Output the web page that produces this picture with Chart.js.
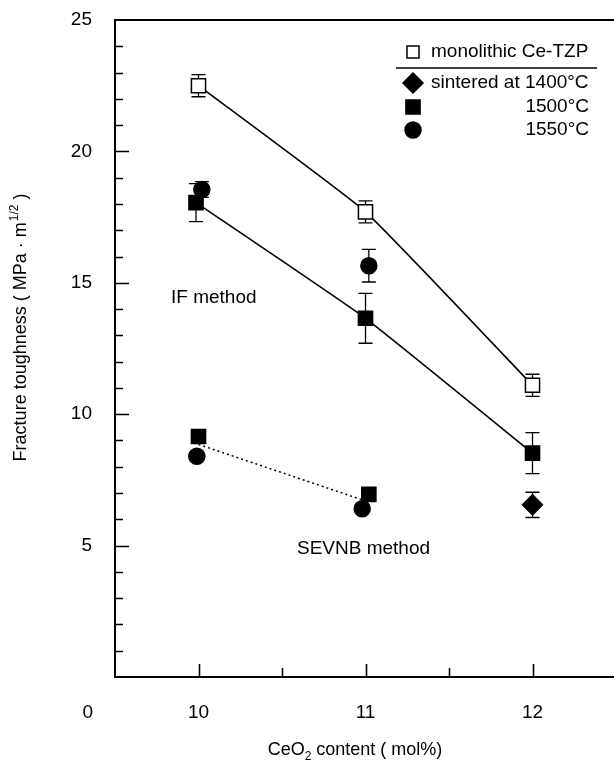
<!DOCTYPE html>
<html>
<head>
<meta charset="utf-8">
<script src="https://cdn.jsdelivr.net/npm/chart.js@4.4.1/dist/chart.umd.min.js"></script>
<style>
html,body{margin:0;padding:0;background:#fff;overflow:hidden;}
#wrap{width:640px;height:773px;}
</style>
</head>
<body>
<div id="wrap"><canvas id="c" width="640" height="773"></canvas></div>
<script>
// ---- data ----
const categories = [10, 11, 12];
const monoY = [22.5, 17.7, 11.1];
const monoErr = [0.42, 0.42, 0.42];
const if1500X = [9.985, 11.0, 12.0];
const if1500Y = [18.05, 13.65, 8.52];
const if1500Err = [0.72, 0.95, 0.78];
const if1550X = [10.02, 11.02];
const if1550Y = [18.55, 15.65];
const if1550Err = [0.3, 0.62];
const sevnbLineX = [10, 11];
const sevnbLineY = [8.85, 6.7];
const sevnb1500X = [10.0, 11.02];
const sevnb1500Y = [9.15, 6.95];
const sevnb1550X = [9.99, 10.98];
const sevnb1550Y = [8.4, 6.4];
const sinter1400X = [12];
const sinter1400Y = [6.55];
const sinter1400Err = [0.48];
const yTickLabels = [5, 10, 15, 20, 25];
const xTickLabels = [10, 11, 12];
const legendItems = [
  {label: 'monolithic Ce-TZP', style: 'rect', fill: '#fff', r: 8.5, align: 'left'},
  {label: 'sintered at 1400\u00B0C', style: 'rectRot', fill: '#000', r: 10, align: 'left'},
  {label: '1500\u00B0C', style: 'rect', fill: '#000', r: 10, align: 'right'},
  {label: '1550\u00B0C', style: 'circle', fill: '#000', r: 8, align: 'right'}
];

const FONT = '"Liberation Sans", Arial, Helvetica, sans-serif';
const pts = (xs, ys) => xs.map((x, i) => ({x: x, y: ys[i]}));

const errorBars = {
  id: 'errorBars',
  beforeDatasetsDraw(chart) {
    const ctx = chart.ctx, xs = chart.scales.x, ys = chart.scales.y;
    ctx.save();
    ctx.strokeStyle = '#000';
    ctx.lineWidth = 1.3;
    chart.data.datasets.forEach(ds => {
      if (!ds.errors) return;
      ds.data.forEach((p, i) => {
        const e = ds.errors[i];
        if (!e) return;
        const px = xs.getPixelForValue(p.x);
        const top = ys.getPixelForValue(p.y + e);
        const bot = ys.getPixelForValue(p.y - e);
        ctx.beginPath();
        ctx.moveTo(px, top); ctx.lineTo(px, bot);
        ctx.moveTo(px - 7, top); ctx.lineTo(px + 7, top);
        ctx.moveTo(px - 7, bot); ctx.lineTo(px + 7, bot);
        ctx.stroke();
      });
    });
    ctx.restore();
  }
};

const frame = {
  id: 'frame',
  afterDraw(chart) {
    const ctx = chart.ctx, xs = chart.scales.x, ys = chart.scales.y;
    const a = chart.chartArea;
    ctx.save();
    ctx.strokeStyle = '#000';
    ctx.lineWidth = 2;
    ctx.beginPath();
    ctx.moveTo(a.right + 5, a.top); ctx.lineTo(a.left, a.top);
    ctx.lineTo(a.left, a.bottom); ctx.lineTo(a.right + 5, a.bottom);
    ctx.stroke();
    ctx.lineWidth = 1.6;
    ctx.beginPath();
    for (let v = 1; v < 25; v++) {
      const py = Math.round(ys.getPixelForValue(v)) + 0.5;
      const len = v % 5 === 0 ? 14 : 8;
      ctx.moveTo(a.left, py); ctx.lineTo(a.left + len, py);
    }
    for (let v = 10; v <= 12; v += 0.5) {
      const px = Math.round(xs.getPixelForValue(v)) + 0.5;
      const len = v % 1 === 0 ? 13 : 9;
      ctx.moveTo(px, a.bottom); ctx.lineTo(px, a.bottom - len);
    }
    ctx.stroke();

    ctx.fillStyle = '#000';
    // origin label
    ctx.font = '19px ' + FONT;
    ctx.textAlign = 'right';
    ctx.textBaseline = 'middle';
    ctx.fillText('0', 93, 713);

    // annotations
    ctx.textAlign = 'left';
    ctx.fillText('IF method', 171, 298);
    ctx.fillText('SEVNB method', 297, 549);

    // x title with subscript
    const mainF = '18px ' + FONT, subF = '12px ' + FONT;
    ctx.textBaseline = 'alphabetic';
    ctx.font = mainF; const w1 = ctx.measureText('CeO').width;
    ctx.font = subF; const w2 = ctx.measureText('2').width;
    ctx.font = mainF; const w3 = ctx.measureText(' content ( mol%)').width;
    let x0 = 355 - (w1 + w2 + w3) / 2, yb = 755;
    ctx.font = mainF; ctx.fillText('CeO', x0, yb);
    ctx.font = subF; ctx.fillText('2', x0 + w1, yb + 5);
    ctx.font = mainF; ctx.fillText(' content ( mol%)', x0 + w1 + w2, yb);

    // y title with superscript
    ctx.save();
    ctx.translate(26, 328);
    ctx.rotate(-Math.PI / 2);
    const t1 = 'Fracture toughness ( MPa \u00B7 m', t2 = '1/2', t3 = ' )';
    ctx.font = mainF; const v1 = ctx.measureText(t1).width;
    ctx.font = subF; const v2 = ctx.measureText(t2).width;
    ctx.font = mainF; const v3 = ctx.measureText(t3).width;
    let s0 = -(v1 + v2 + v3) / 2;
    ctx.font = mainF; ctx.fillText(t1, s0, 0);
    ctx.font = subF; ctx.fillText(t2, s0 + v1 + 1, -8);
    ctx.font = mainF; ctx.fillText(t3, s0 + v1 + v2 + 1, 0);
    ctx.restore();

    // legend
    ctx.font = '19px ' + FONT;
    ctx.textBaseline = 'middle';
    const ly = [52, 83, 107, 130];
    legendItems.forEach((it, i) => {
      ctx.fillStyle = it.fill;
      ctx.strokeStyle = '#000';
      ctx.lineWidth = 1.5;
      Chart.helpers.drawPoint(ctx, {pointStyle: it.style, radius: it.r, borderWidth: 1.5, rotation: 0}, 413, ly[i]);
      ctx.fillStyle = '#000';
      if (it.align === 'left') { ctx.textAlign = 'left'; ctx.fillText(it.label, 431, ly[i]); }
      else { ctx.textAlign = 'right'; ctx.fillText(it.label, 589, ly[i]); }
    });
    ctx.lineWidth = 1.5;
    ctx.beginPath();
    ctx.moveTo(396, 68); ctx.lineTo(597, 68);
    ctx.stroke();
    ctx.restore();
  }
};

const base = {borderColor: '#000', pointBorderColor: '#000', pointBorderWidth: 1.5, pointHoverRadius: 0};

new Chart(document.getElementById('c'), {
  type: 'scatter',
  data: {
    datasets: [
      Object.assign({}, base, {label: 'monolithic Ce-TZP', data: pts(categories, monoY), errors: monoErr,
        showLine: true, borderWidth: 1.6, tension: 0.12, pointStyle: 'rect', pointRadius: 10, pointBackgroundColor: '#fff'}),
      Object.assign({}, base, {label: 'IF 1500', data: pts(if1500X, if1500Y), errors: if1500Err,
        showLine: true, borderWidth: 1.6, tension: 0.12, pointStyle: 'rect', pointRadius: 10, pointBackgroundColor: '#000'}),
      Object.assign({}, base, {label: 'IF 1550', data: pts(if1550X, if1550Y), errors: if1550Err,
        showLine: false, pointStyle: 'circle', pointRadius: 8, pointBackgroundColor: '#000'}),
      Object.assign({}, base, {label: 'SEVNB line', data: pts(sevnbLineX, sevnbLineY),
        showLine: true, borderWidth: 1.5, borderDash: [2, 3], pointRadius: 0}),
      Object.assign({}, base, {label: 'SEVNB 1500', data: pts(sevnb1500X, sevnb1500Y),
        showLine: false, pointStyle: 'rect', pointRadius: 10, pointBackgroundColor: '#000'}),
      Object.assign({}, base, {label: 'SEVNB 1550', data: pts(sevnb1550X, sevnb1550Y),
        showLine: false, pointStyle: 'circle', pointRadius: 8, pointBackgroundColor: '#000'}),
      Object.assign({}, base, {label: 'sintered 1400', data: pts(sinter1400X, sinter1400Y), errors: sinter1400Err,
        showLine: false, pointStyle: 'rectRot', pointRadius: 10, pointBackgroundColor: '#000'})
    ]
  },
  options: {
    responsive: false,
    devicePixelRatio: 1,
    animation: false,
    events: [],
    layout: {padding: {top: 20, right: 24, left: 0, bottom: 0}},
    plugins: {legend: {display: false}, tooltip: {enabled: false}},
    scales: {
      x: {
        type: 'linear', min: 9.5, max: 12.5,
        afterFit: s => { s.height = 96; s.paddingLeft = 0; s.paddingRight = 0; },
        border: {display: false},
        grid: {display: false, drawTicks: false},
        afterBuildTicks: s => { s.ticks = [9.5, 10, 10.5, 11, 11.5, 12, 12.5].map(v => ({value: v})); },
        ticks: {autoSkip: false, maxRotation: 0, padding: 24, color: '#000', font: {family: FONT, size: 19},
          callback: v => xTickLabels.includes(v) ? String(v) : ''}
      },
      y: {
        type: 'linear', min: 0, max: 25,
        afterFit: s => { s.width = 115; s.paddingTop = 0; s.paddingBottom = 0; },
        border: {display: false},
        grid: {display: false, drawTicks: false},
        afterBuildTicks: s => { s.ticks = yTickLabels.map(v => ({value: v})); },
        ticks: {autoSkip: false, padding: 23, color: '#000', font: {family: FONT, size: 19},
          callback: v => String(v)}
      }
    }
  },
  plugins: [errorBars, frame]
});
</script>
</body>
</html>
